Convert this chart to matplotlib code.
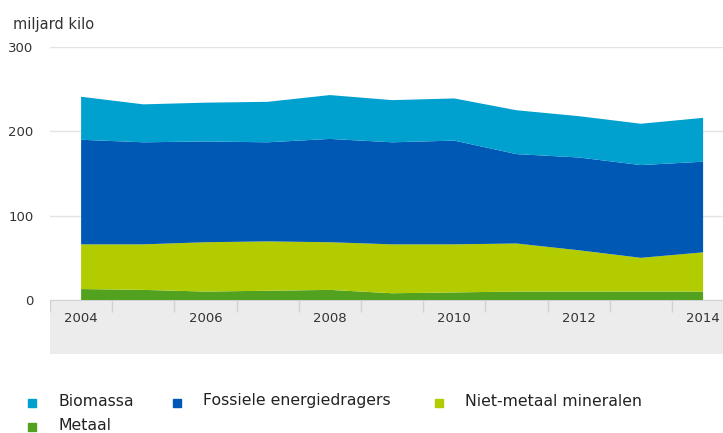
import matplotlib.pyplot as plt
import numpy as np

years = [2004, 2005, 2006, 2007, 2008, 2009, 2010, 2011, 2012, 2013, 2014]

# miljard kilo
metaal = [13, 12, 10, 11, 12, 8, 9, 10, 10, 10, 10]
niet_metaal = [53, 54, 58.5, 58.5, 56.5, 58, 57, 57, 49, 40, 46.5]
fossiel = [124, 121, 119.5, 117.5, 122.5, 121, 123, 106, 110, 110, 107.5]
biomassa = [51, 45, 46, 48, 52, 50, 50, 52, 49, 49, 52]

series_names = ['Biomassa', 'Fossiele energiedragers', 'Niet-metaal mineralen', 'Metaal']
colors = ['#00a0cf', '#0058b5', '#b2cc00', '#52a21f']

yticks = [0, 100, 200, 300]
xlabels = [2004, 2006, 2008, 2010, 2012, 2014]

W, H = 723, 433
fig = plt.figure(figsize=(W / 100, H / 100), dpi=100)
plt.rcParams['font.family'] = ['DejaVu Sans']

x0, x1 = 2003.5, 2003.5 + (W - 50) / 62.2

# main plot area
ax = fig.add_axes([50 / W, 1 - 300 / H, 1 - 50 / W, 253 / H])
ax.stackplot(years, metaal, niet_metaal, fossiel, biomassa,
             colors=colors[::-1], linewidth=0)
ax.set_xlim(x0, x1)
ax.set_ylim(0, 300)
ax.set_yticks(yticks)
ax.set_xticks([])
for s in ax.spines.values():
    s.set_visible(False)
ax.yaxis.grid(True, color='#e3e3e3', linewidth=1)
ax.set_axisbelow(True)
ax.tick_params(axis='y', length=0, pad=12, labelsize=9.5, labelcolor='#333333')
ax.patch.set_alpha(0)

fig.text(13 / W, 1 - 25 / H, 'miljard kilo', fontsize=10.5, color='#333333',
         va='center', ha='left')

# grey x-axis band
bx = fig.add_axes([50 / W, 1 - 354 / H, 1 - 50 / W, 54 / H])
bx.set_facecolor('#ececec')
bx.set_xlim(x0, x1)
bx.set_ylim(0, 54)
bx.set_xticks([])
bx.set_yticks([])
for s in bx.spines.values():
    s.set_visible(False)
bx.axhline(54, color='#cccccc', linewidth=1.2)
bounds = np.arange(2003.5, 2015, 1.0)
bx.vlines(bounds, 42, 54, color='#d2d2d2', linewidth=1)
for yr in xlabels:
    bx.text(yr, 36, str(yr), ha='center', va='center', fontsize=9.5, color='#333333')

# legend
leg_pos = [(32, 401), (177, 401), (439, 401), (32, 425)]
for name, col, (lx, ly) in zip(series_names, colors, leg_pos):
    fig.patches.append(plt.Rectangle(((lx - 4) / W, 1 - (ly + 6) / H), 8 / W, 8 / H,
                                     transform=fig.transFigure, color=col))
    fig.text((lx + 26) / W, 1 - ly / H, name, fontsize=11.3, color='#222222',
             ha='left', va='center')

fig.savefig('out.png', dpi=100)
